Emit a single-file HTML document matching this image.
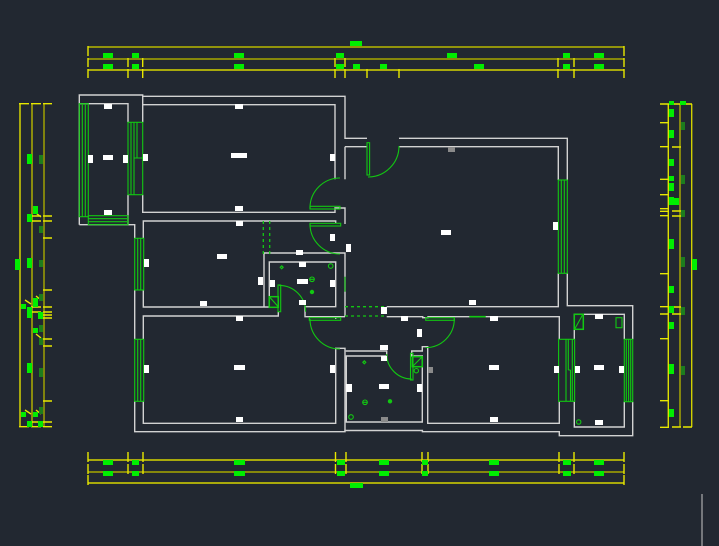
<!DOCTYPE html>
<html><head><meta charset="utf-8"><style>
html,body{margin:0;padding:0;background:#222831;}
svg{display:block;}
</style></head><body>
<svg width="719" height="546" viewBox="0 0 719 546" xmlns="http://www.w3.org/2000/svg">
<rect width="719" height="546" fill="#222831"/>

<!-- ===== Dimension lines ===== -->
<g fill="none" stroke-width="1.4">
  <!-- top -->
  <path d="M88,47H624" stroke="#b8b800"/>
  <path d="M88,59H624" stroke="#a8a800"/>
  <path d="M88,70H624" stroke="#d6d600"/>
  <path stroke="#e8e800" d="M88,46V56M624,46V56
  M88,58V67M128,58V67M142.7,58V67M335,58V67M345,58V67M558,58V67M574,58V67M624,58V67
  M88,69V78M128,69V78M142.7,69V78M335,69V78M345,69V78M367,69V78M399,69V78M558,69V78M574,69V78M624,69V78"/>
  <!-- bottom -->
  <path d="M88,460H624" stroke="#d6d600"/>
  <path d="M88,472H624" stroke="#a8a800"/>
  <path d="M88,483H624" stroke="#d6d600"/>
  <path stroke="#e8e800" d="M88,452V462M128,452V462M143,452V462M335.5,452V462M346,452V462M422,452V462M428,452V462M559,452V462M574,452V462M624,452V462
  M88,464V474M128,464V474M143,464V474M335.5,464V474M346,464V474M422,464V474M428,464V474M559,464V474M574,464V474M624,464V474
  M88,475V485M624,475V485"/>
  <!-- left -->
  <path d="M20,103.7V426.7" stroke="#e0e000"/>
  <path d="M32,103.7V426.7" stroke="#b8b800"/>
  <path d="M44,103.7V426.7" stroke="#a8a800"/>
  <path stroke="#e8e800" d="M19,103.7H29M31,103.7H41M43,103.7H52
  M19,426.7H29M31,426.7H41M43,426.7H52
  M31,216H41M31,221H41M31,307H41M31,312H41M31,422H41
  M43,216H52M43,221H52M43,238H52M43,290H52M43,307H52M43,312H52M43,315H52M43,318H52M43,339H52M43,346H52M43,401H52M43,422H52
  M36,213L41,217M36,296L41,300M36,334L41,338M36,410L41,414M25,410L31,414M25,300L31,304"/>
  <!-- right -->
  <path d="M668.3,104V427" stroke="#e0e000"/>
  <path d="M680,104V427" stroke="#b0b000"/>
  <path d="M691.7,104V427" stroke="#d0d000"/>
  <path stroke="#e8e800" d="M660,104H669M660,122.7H669M660,146.7H669M660,179.3H669M660,194.7H669M660,208.7H669M660,211.3H669M660,215.7H669M660,273.7H669M660,306.7H669M660,314H669M660,338.7H669M660,400.7H669M660,427.3H669
  M672,104H681M672,147H681M672,211H681M672,216H681M672,307H681M672,314H681M672,427H681
  M683,104H692M683,427H692"/>
</g>

<!-- dimension labels (green) -->
<g fill="#00ee00">
  <rect x="350" y="41" width="12" height="5"/>
  <rect x="103" y="53" width="10" height="5"/><rect x="132" y="53" width="7" height="5"/><rect x="234" y="53" width="10" height="5"/><rect x="336" y="53" width="8" height="5"/><rect x="447" y="53" width="10" height="5"/><rect x="563" y="53" width="7" height="5"/><rect x="594" y="53" width="10" height="5"/>
  <rect x="103" y="64" width="10" height="5"/><rect x="132" y="64" width="7" height="5"/><rect x="234" y="64" width="10" height="5"/><rect x="336" y="64" width="8" height="5"/><rect x="353" y="64" width="7" height="5"/><rect x="380" y="64" width="7" height="5"/><rect x="474" y="64" width="10" height="5"/><rect x="563" y="64" width="7" height="5"/><rect x="594" y="64" width="10" height="5"/>

  <rect x="103" y="460" width="10" height="5"/><rect x="132" y="460" width="7" height="5"/><rect x="234" y="460" width="11" height="5"/><rect x="337" y="460" width="8" height="5"/><rect x="379" y="460" width="10" height="5"/><rect x="422" y="460" width="6" height="5"/><rect x="489" y="460" width="10" height="5"/><rect x="563" y="460" width="8" height="5"/><rect x="594" y="460" width="10" height="5"/>
  <rect x="103" y="471" width="10" height="5"/><rect x="132" y="471" width="7" height="5"/><rect x="234" y="471" width="11" height="5"/><rect x="337" y="471" width="8" height="5"/><rect x="379" y="471" width="10" height="5"/><rect x="422" y="471" width="6" height="5"/><rect x="489" y="471" width="10" height="5"/><rect x="563" y="471" width="8" height="5"/><rect x="594" y="471" width="10" height="5"/>
  <rect x="350" y="483" width="13" height="5"/>

  <rect x="27" y="154" width="5" height="10"/><rect x="33" y="206" width="5" height="8"/><rect x="27" y="214" width="5" height="8"/><rect x="15" y="259" width="5" height="11"/><rect x="27" y="258" width="5" height="10"/><rect x="33" y="298" width="5" height="9"/><rect x="21" y="304" width="5" height="5"/><rect x="27" y="307" width="5" height="11"/><rect x="38" y="312" width="5" height="7"/><rect x="33" y="328" width="5" height="5"/><rect x="27" y="363" width="5" height="10"/><rect x="21" y="412" width="5" height="5"/><rect x="33" y="412" width="5" height="5"/><rect x="27" y="421" width="5" height="6"/><rect x="38" y="421" width="5" height="6"/>

  <rect x="669" y="101" width="5" height="4"/><rect x="669" y="109" width="5" height="8"/><rect x="669" y="130" width="5" height="8"/><rect x="669" y="159" width="5" height="7"/><rect x="669" y="176" width="5" height="5"/><rect x="669" y="183" width="5" height="8"/><rect x="669" y="197" width="5" height="8"/><rect x="674" y="198" width="5" height="7"/><rect x="669" y="239" width="5" height="10"/><rect x="669" y="286" width="5" height="7"/><rect x="669" y="306" width="5" height="7"/><rect x="669" y="322" width="5" height="7"/><rect x="669" y="364" width="5" height="10"/><rect x="669" y="409" width="5" height="8"/>
  <rect x="680" y="101" width="6" height="4"/>
  <rect x="692" y="259" width="5" height="11"/>
</g>
<!-- dark green small dim text -->
<g fill="#1d7d1d">
  <rect x="39" y="155" width="4" height="9"/><rect x="39" y="226" width="4" height="7"/><rect x="39" y="260" width="4" height="7"/><rect x="39" y="294" width="4" height="7"/><rect x="39" y="325" width="4" height="7"/><rect x="39" y="338" width="4" height="7"/><rect x="39" y="368" width="4" height="9"/><rect x="39" y="407" width="4" height="7"/>
  <rect x="681" y="122" width="4" height="8"/><rect x="681" y="175" width="4" height="9"/><rect x="681" y="210" width="4" height="7"/><rect x="681" y="257" width="4" height="10"/><rect x="681" y="307" width="4" height="8"/><rect x="681" y="366" width="4" height="9"/>
</g>

<!-- ===== Walls ===== -->
<g fill="none" stroke="#d2d2d2" stroke-width="1.4">
  <!-- outer boundary -->
  <path d="M79.3,224.7V95H142.7V96.3H345V138.3H367"/>
  <path d="M399,138.3H567.3V180"/>
  <path d="M567.3,273.3V305.7H632.7V339.3"/>
  <path d="M632.7,401.7V435.7H559.3V431.7H422.4V430.5H345V431.7H134.7V401.3"/>
  <path d="M134.7,339.3V290"/>
  <path d="M134.7,238.3V224.7H79.3"/>
  <!-- balcony -->
  <path d="M79.3,103.7H128V122.3"/>
  <path d="M128,194.7V224.7"/>
  <!-- bedroom 1 -->
  <path d="M142.7,96.3V122.3"/>
  <path d="M142.7,194.7V212.3H335V208H345V224"/>
  <path d="M142.7,104.7H335V179.3"/>
  <path d="M345,146.7V179.3"/>
  <!-- bedroom 2 / entry -->
  <path d="M143.3,238.3V221H335.7V223"/>
  <path d="M143.3,290V307H269.3V262H335.7V306.7H305V316.7H345"/>
  <path d="M264,307V253H345V316"/>
  <!-- bedroom 3 -->
  <path d="M143.3,339.3V316H278.3V311.7"/>
  <path d="M143.3,401.3V423.3H335.7V348.3H345V431"/>
  <path d="M335.7,316.7V319"/>
  <!-- bathroom 2 -->
  <path d="M345.7,351H386.7V356H346.3V422H422.3V356H411.7V351H422.3V346.7H427.7V423.3H559.3V401.7"/>
  <!-- corridor / bedroom 4 top -->
  <path d="M386.7,316.7H422.7V317.7H428V316.7H559.3V339.3"/>
  <!-- living room -->
  <path d="M558.3,273.3V306.7H386.7"/>
  <path d="M558.3,180V146.7H399"/>
  <path d="M367,146.7H345"/>
  <!-- room 5 -->
  <path d="M574.3,339.3V314.3H624.3V339.3"/>
  <path d="M574.3,401.7V427H624.3V401.7"/>
</g>

<!-- ===== Windows / doors (green) ===== -->
<g fill="none" stroke="#12c812" stroke-width="1.1">
  <!-- balcony windows -->
  <rect x="79.3" y="103.7" width="9" height="113"/>
  <path d="M82.3,103.7V216.7M85.3,103.7V216.7"/>
  <rect x="88.3" y="215.7" width="39.7" height="9"/>
  <path d="M88.3,218.7H128M88.3,221.7H128"/>
  <!-- sliding door balcony/bed1 -->
  <rect x="128" y="122.3" width="14.7" height="72.4"/>
  <path d="M131,122.3V194.7M134,122.3V194.7M134,158H142.7M137,122.3V158"/>
  <!-- bed 2 west -->
  <rect x="134.7" y="238.3" width="9" height="51.7"/>
  <path d="M137.7,238.3V290M140.7,238.3V290"/>
  <!-- bed 3 west -->
  <rect x="134.7" y="339.3" width="9" height="62"/>
  <path d="M137.7,339.3V401.3M140.7,339.3V401.3"/>
  <!-- living east -->
  <rect x="558.3" y="180" width="9" height="93.3"/>
  <path d="M561.3,180V273.3M564.3,180V273.3"/>
  <!-- bed4 / room5 -->
  <rect x="558.6" y="339.3" width="16" height="62"/>
  <path d="M566,339.3V401.3M568.3,339.3V370M570.5,370V401.3M572.3,339.3V401.3M568.3,370H570.5"/>
  <!-- room 5 east -->
  <rect x="624.3" y="339.3" width="8.4" height="62.4"/>
  <path d="M626.3,339.3V401.7M628.6,339.3V401.7M630.7,339.3V401.7"/>

  <!-- door leaves -->
  <rect x="310" y="206.3" width="30" height="2.7"/>
  <rect x="310" y="223.3" width="30.7" height="2.7"/>
  <rect x="309.3" y="317.7" width="31.4" height="2.6"/>
  <rect x="367" y="142.7" width="2.6" height="32.3"/>
  <rect x="278" y="285" width="2.7" height="26.7"/>
  <rect x="425.7" y="317.7" width="28.6" height="2.6"/>
  <rect x="410.5" y="353.3" width="2.5" height="26.7"/>
  <!-- arcs -->
  <path d="M310,208A30,30 0 0 1 340,178"/>
  <path d="M310,224A30,30 0 0 0 340,254"/>
  <path d="M310,319A30,30 0 0 0 340,349"/>
  <path d="M368,177A31,31 0 0 0 399,146"/>
  <path d="M279.3,285.4A26.3,26.3 0 0 1 305.6,311.7"/>
  <path d="M454.3,319A28.6,28.6 0 0 1 425.7,347.6"/>
  <path d="M386.7,354A25,25 0 0 0 411.7,379"/>

  <!-- misc green -->
  <path d="M345,276.7V291.7"/>
  <path d="M469.3,316.7H485.7" stroke-width="1.6"/>
  <!-- shafts -->
  <rect x="269.3" y="296.7" width="9" height="10.6" stroke-width="1.5"/>
  <path d="M270,297.5L278,306.5"/>
  <rect x="412.3" y="356.7" width="10" height="10" stroke-width="1.5"/>
  <path d="M413,366L421.5,357.5"/>
  <rect x="574.3" y="314.3" width="9" height="15" stroke-width="1.5"/>
  <path d="M575,328.5L582.5,315"/>
  <rect x="616" y="317.7" width="6" height="10"/>
  <!-- fixtures -->
  <circle cx="330.7" cy="266" r="2.3"/>
  <circle cx="312" cy="279.3" r="2.3"/><path d="M310,279.3H314"/>
  <circle cx="365" cy="402.3" r="2.3"/><path d="M363,402.3H367"/>
  <circle cx="351" cy="417" r="2.3"/>
  <circle cx="416.3" cy="370.7" r="2.2"/>
  <circle cx="578.7" cy="422" r="2.2"/>
  <path d="M281.7,265.8L283.2,267.3L281.7,268.8L280.2,267.3Z"/>
  <path d="M364.3,360.8L365.8,362.3L364.3,363.8L362.8,362.3Z"/>
</g>
<g fill="#12c812">
  <circle cx="312" cy="292" r="2.2"/>
  <circle cx="390" cy="401.3" r="2.2"/>
</g>
<!-- dotted thresholds -->
<g fill="none" stroke="#12c812" stroke-width="1.3" stroke-dasharray="3,3">
  <path d="M263.3,221V256M269.7,221V256"/>
  <path d="M345,306.7H386M345,316H386"/>
</g>

<!-- ===== White labels ===== -->
<g fill="#ffffff">
  <rect x="104" y="104" width="8" height="5"/><rect x="88" y="155" width="5" height="8"/><rect x="103" y="155" width="10" height="5"/><rect x="123" y="155" width="5" height="8"/><rect x="104" y="210" width="8" height="5"/>
  <rect x="235" y="104" width="8" height="5"/><rect x="231" y="153" width="16" height="5"/><rect x="143" y="154" width="5" height="7"/><rect x="330" y="154" width="5" height="7"/><rect x="235" y="206" width="8" height="5"/>
  <rect x="236" y="221" width="7" height="5"/><rect x="217" y="254" width="10" height="5"/><rect x="144" y="259" width="5" height="8"/><rect x="258" y="277" width="5" height="8"/><rect x="200" y="301" width="7" height="5"/><rect x="296" y="250" width="7" height="5"/><rect x="330" y="234" width="5" height="7"/><rect x="346" y="244" width="5" height="8"/>
  <rect x="299" y="262" width="7" height="5"/><rect x="297" y="279" width="11" height="5"/><rect x="270" y="280" width="5" height="7"/><rect x="330" y="280" width="5" height="7"/><rect x="299" y="300" width="7" height="5"/>
  <rect x="236" y="316" width="7" height="5"/><rect x="234" y="365" width="11" height="5"/><rect x="144" y="365" width="5" height="8"/><rect x="330" y="365" width="5" height="8"/><rect x="236" y="417" width="7" height="5"/>
  <rect x="553" y="222" width="5" height="8"/><rect x="441" y="230" width="10" height="5"/><rect x="469" y="300" width="7" height="5"/><rect x="381" y="307" width="6" height="7"/>
  <rect x="401" y="316" width="7" height="5"/><rect x="417" y="329" width="5" height="8"/><rect x="380" y="345" width="8" height="5"/><rect x="381" y="356" width="6" height="5"/><rect x="346" y="384" width="6" height="8"/><rect x="379" y="384" width="10" height="5"/><rect x="417" y="384" width="5" height="8"/>
  <rect x="490" y="316" width="8" height="5"/><rect x="489" y="365" width="10" height="5"/><rect x="554" y="366" width="5" height="7"/><rect x="490" y="417" width="8" height="5"/>
  <rect x="595" y="314" width="8" height="5"/><rect x="594" y="365" width="10" height="5"/><rect x="575" y="366" width="5" height="7"/><rect x="619" y="366" width="5" height="7"/><rect x="595" y="420" width="8" height="5"/>
</g>
<!-- gray small text -->
<g fill="#8a8a8a">
  <rect x="448" y="147" width="7" height="5"/>
  <rect x="428" y="367" width="5" height="6"/>
  <rect x="381" y="417" width="7" height="5"/>
</g>

<!-- bottom-right viewport edge -->
<path d="M702,494V546" stroke="#c8c8c8" stroke-width="1"/>
</svg>
</body></html>
